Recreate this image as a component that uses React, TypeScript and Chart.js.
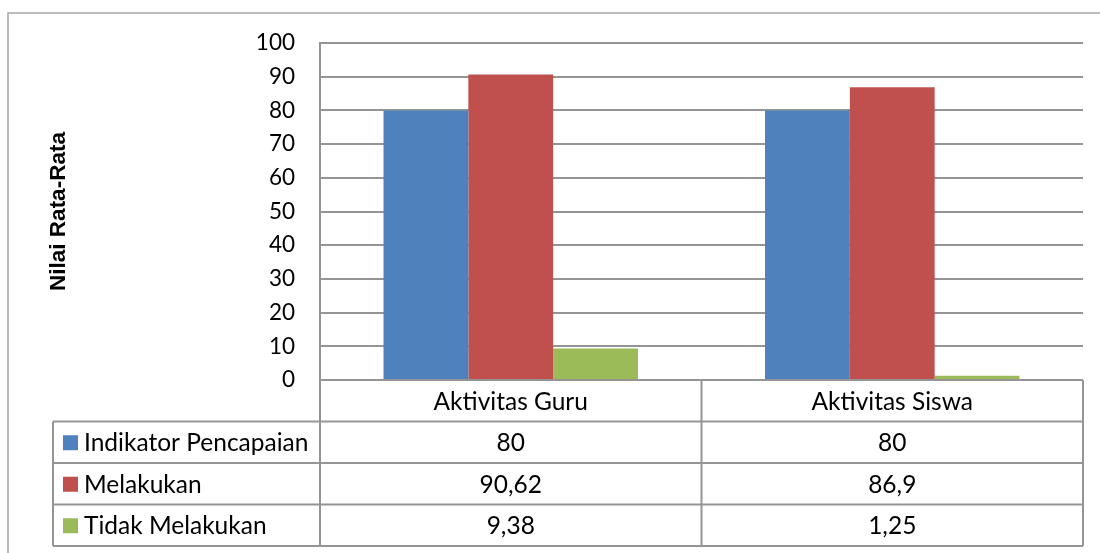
import React, { useEffect, useRef } from "react";
import { Chart, registerables } from "chart.js";

Chart.register(...registerables);

const categories = ["Aktivitas Guru", "Aktivitas Siswa"];
const seriesNames = ["Indikator Pencapaian", "Melakukan", "Tidak Melakukan"];
const indikatorValues = [80, 80];
const melakukanValues = [90.62, 86.9];
const tidakValues = [9.38, 1.25];
const tableTexts = [
  ["80", "80"],
  ["90,62", "86,9"],
  ["9,38", "1,25"],
];
const colors = ["#4F81BD", "#C0504D", "#9BBB59"];
const yTicks = { min: 0, max: 100, step: 10 };
const yTitle = "Nilai Rata-Rata";

const FONT = "Lato";
const LINE = "#959595";

const tablePlugin = {
  id: "dataTable",
  afterDraw(chart: any) {
    const ctx = chart.ctx as CanvasRenderingContext2D;
    const { left, right, bottom, top } = chart.chartArea;
    const xs = chart.scales.x;
    const n = categories.length;
    const rowH = 41.5;
    const tableLeft = 53;
    const rows = seriesNames.length;
    const tableBottom = bottom + rowH * (rows + 1);
    ctx.save();
    // outer border
    ctx.strokeStyle = "#a6a6a6";
    ctx.lineWidth = 1.5;
    ctx.beginPath();
    ctx.moveTo(8, 560);
    ctx.lineTo(8, 13);
    ctx.lineTo(1110, 13);
    ctx.stroke();

    ctx.strokeStyle = LINE;
    ctx.lineWidth = 2;
    ctx.beginPath();
    ctx.moveTo(left, top);
    ctx.lineTo(left, tableBottom);
    ctx.moveTo(left, bottom);
    ctx.lineTo(right, bottom);
    for (let r = 1; r <= rows + 1; r++) {
      const y = bottom + rowH * r;
      ctx.moveTo(tableLeft, y);
      ctx.lineTo(right, y);
    }
    ctx.moveTo(tableLeft, bottom + rowH);
    ctx.lineTo(tableLeft, tableBottom);
    for (let i = 1; i <= n; i++) {
      const x = left + ((right - left) * i) / n;
      ctx.moveTo(x, bottom);
      ctx.lineTo(x, tableBottom);
    }
    ctx.stroke();

    ctx.fillStyle = "#000";
    ctx.font = `24.5px ${FONT}`;
    ctx.textBaseline = "middle";
    ctx.textAlign = "center";
    categories.forEach((c, i) => {
      ctx.fillText(c, xs.getPixelForValue(i), bottom + rowH / 2 + 1);
    });
    for (let r = 0; r < rows; r++) {
      const cy = bottom + rowH * (r + 1.5) + 1;
      ctx.textAlign = "center";
      for (let i = 0; i < n; i++) {
        ctx.fillText(tableTexts[r][i], xs.getPixelForValue(i), cy);
      }
      ctx.fillStyle = colors[r];
      ctx.fillRect(63, cy - 8, 15, 15);
      ctx.fillStyle = "#000";
      ctx.textAlign = "left";
      ctx.fillText(seriesNames[r], 84, cy);
    }
    ctx.restore();
  },
};

export default function App() {
  const ref = useRef<HTMLCanvasElement>(null);
  useEffect(() => {
    if (!ref.current) return;
    const chart = new Chart(ref.current, {
      type: "bar",
      data: {
        labels: categories,
        datasets: [
          { label: seriesNames[0], data: indikatorValues, backgroundColor: colors[0] },
          { label: seriesNames[1], data: melakukanValues, backgroundColor: colors[1] },
          { label: seriesNames[2], data: tidakValues, backgroundColor: colors[2] },
        ],
      },
      options: {
        animation: false,
        responsive: false,
        layout: { padding: { left: 0, right: 17, top: 43, bottom: 173 } },
        datasets: { bar: { categoryPercentage: 0.667, barPercentage: 1 } },
        plugins: { legend: { display: false }, tooltip: { enabled: false } },
        scales: {
          x: { display: false },
          y: {
            min: yTicks.min,
            max: yTicks.max,
            ticks: {
              stepSize: yTicks.step,
              padding: 25,
              color: "#000",
              font: { family: FONT, size: 22.5 },
            },
            grid: { color: LINE, lineWidth: 2, drawTicks: false },
            border: { display: true, color: LINE, width: 2 },
            title: {
              display: true,
              text: yTitle,
              color: "#000",
              font: { family: "Liberation Sans", size: 22.5, weight: "bold" },
              padding: { top: 45, bottom: 0 },
            },
            afterFit(scale: any) {
              scale.width = 320;
            },
          },
        },
      },
      plugins: [tablePlugin],
    } as any);
    return () => chart.destroy();
  }, []);
  return (
    <div style={{ position: "absolute", left: 0, top: 0, width: 1100, height: 553, background: "#fff" }}>
      <canvas ref={ref} width={1100} height={553} style={{ display: "block" }} />
    </div>
  );
}
